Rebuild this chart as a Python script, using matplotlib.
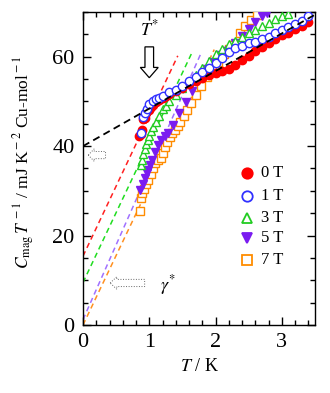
import numpy as np
import matplotlib
matplotlib.use("Agg")
import matplotlib.pyplot as plt
from matplotlib.patches import FancyArrow

plt.rcParams['font.family'] = ['Liberation Serif', 'DejaVu Serif']
plt.rcParams['mathtext.fontset'] = 'stix'

# C_mag/T data (T in K, C/T in mJ K^-2 Cu-mol^-1)
t_0T = [0.85, 0.87, 0.89, 0.91, 0.93, 0.95, 0.98, 1.0, 1.03, 1.06, 1.1, 1.15, 1.2, 1.25, 1.3,
        1.4, 1.5, 1.6, 1.7, 1.8, 1.9, 2.0, 2.1, 2.2, 2.3, 2.4, 2.5, 2.6, 2.7, 2.8, 2.9, 3.0,
        3.1, 3.2, 3.3, 3.4]
c_0T = [42.3, 42.8, 43.5, 46.0, 46.4, 47.5, 48.2, 48.0, 48.8, 49.2, 49.8, 50.3, 50.8, 51.2, 51.6,
        52.4, 53.0, 53.8, 54.5, 55.2, 55.9, 56.3, 56.8, 57.3, 58.2, 59.2, 60.2, 61.2, 62.2, 63.1,
        64.0, 64.8, 65.4, 66.3, 66.8, 67.8]

t_1T = [0.87, 0.9, 0.93, 0.96, 1.0, 1.05, 1.1, 1.15, 1.2, 1.3, 1.4, 1.5, 1.6, 1.7, 1.8, 1.9,
        2.0, 2.1, 2.2, 2.3, 2.4, 2.5, 2.6, 2.7, 2.8, 2.9, 3.0, 3.1, 3.2, 3.3, 3.4]
c_1T = [43.0, 46.5, 47.5, 48.3, 49.5, 50.0, 50.5, 50.8, 51.2, 52.0, 52.6, 53.5, 54.5, 55.5, 56.5, 57.5,
        58.6, 59.8, 61.0, 62.0, 62.5, 63.0, 63.4, 63.9, 64.5, 65.3, 66.0, 66.6, 67.4, 68.0, 69.0]

t_3T = [0.87, 0.89, 0.91, 0.93, 0.95, 0.98, 1.0, 1.03, 1.06, 1.1, 1.15, 1.2, 1.25, 1.3, 1.4,
        1.5, 1.6, 1.7, 1.8, 1.9, 2.0, 2.1, 2.2, 2.3, 2.4, 2.5, 2.6, 2.7, 2.8, 2.9, 3.0, 3.1]
c_3T = [35.8, 37.0, 38.2, 39.3, 40.4, 41.3, 42.2, 43.3, 44.2, 45.5, 46.8, 48.2, 49.0, 50.0, 51.5,
        53.0, 54.5, 56.0, 57.5, 59.0, 60.5, 61.8, 62.8, 63.5, 64.3, 65.3, 66.0, 66.8, 67.5, 68.4, 69.0, 69.6]

t_5T = [0.86, 0.9, 0.93, 0.96, 0.98, 1.01, 1.04, 1.08, 1.13, 1.18, 1.23, 1.28, 1.36, 1.45, 1.55,
        1.65, 1.76, 1.85, 1.95, 2.05, 2.15, 2.2, 2.3, 2.4, 2.5, 2.6, 2.7, 2.77]
c_5T = [30.1, 31.6, 32.8, 33.9, 34.7, 35.8, 37.0, 38.6, 40.3, 41.4, 42.2, 43.0, 44.8, 47.3, 49.8,
        52.3, 55.5, 57.3, 58.9, 60.3, 61.2, 61.6, 63.0, 64.6, 66.2, 67.7, 69.0, 69.8]

t_7T = [0.86, 0.88, 0.89, 0.92, 0.95, 0.98, 1.02, 1.06, 1.09, 1.13, 1.17, 1.2, 1.24, 1.27, 1.31,
        1.35, 1.39, 1.43, 1.46, 1.52, 1.57, 1.63, 1.7, 1.78, 1.87, 1.95, 2.03, 2.12, 2.2, 2.27,
        2.37, 2.45, 2.53, 2.62]
c_7T = [25.5, 28.3, 29.5, 30.5, 31.5, 32.5, 33.8, 35.2, 36.3, 36.9, 37.4, 38.5, 39.8, 41.0, 42.0,
        42.9, 43.7, 44.6, 45.4, 46.8, 48.1, 49.6, 51.4, 53.4, 55.5, 57.2, 58.8, 60.5, 61.8, 62.7,
        65.4, 66.8, 68.2, 69.4]

# linear fits drawn as dashed lines: (intercept, end-point T, end-point C/T)
fit_black = (40.0, 3.5, 69.4)
fit_0T = (15.4, 1.43, 60.2)
fit_3T = (9.5, 1.65, 61.1)
fit_5T = (1.2, 1.79, 61.1)
fit_7T = (0.0, 1.98, 61.6)

fig = plt.figure(figsize=(3.3, 3.93), dpi=100)
ax = fig.add_axes([0.2515, 0.173, 0.703, 0.7965])

for (c0, t1, c1), col in [(fit_0T, '#ff2020'), (fit_3T, '#20dd20'),
                          (fit_5T, '#a070ff'), (fit_7T, '#ff9020')]:
    ax.plot([0, t1], [c0, c1], ls=(0, (3.5, 2.5)), color=col, lw=1.1, zorder=2)

ax.plot(t_7T, c_7T, 's', ms=5.5, mfc='white', mec='#ff8c00', mew=1.0, zorder=3)
ax.plot(t_5T, c_5T, 'v', ms=6, color='#7a1cf0', zorder=3)
ax.plot(t_3T, c_3T, '^', ms=6, mfc='white', mec='#22cc22', mew=1.0, zorder=4)
ax.plot(t_1T, c_1T, 'o', ms=6, mfc='white', mec='#3030ff', mew=1.0, zorder=5)
ax.plot(t_0T, c_0T, 'o', ms=6, color='#ff0000', zorder=4)

c0, t1, c1 = fit_black
ax.plot([0, t1], [c0, c1], ls=(0, (4, 2.5)), color='black', lw=1.3, zorder=6)

# legend drawn as markers + text
leg = [('0T', 'o', '#ff0000', True), ('1T', 'o', '#3030ff', False),
       ('3T', '^', '#22cc22', False), ('5T', 'v', '#7a1cf0', True),
       ('7T', 's', '#ff8c00', False)]
leg_y = [34.0, 28.8, 23.9, 19.4, 14.5]
for (lab, m, col, filled), y in zip(leg, leg_y):
    ax.plot([2.48], [y], m, ms=7.5, mfc=col if filled else 'white', mec=col, mew=1.3,
            clip_on=False, zorder=7)
    ax.text(2.68, y, lab[0] + ' T', fontsize=12, va='center', ha='left')

# T* arrow and label
ax.text(1.0, 66.0, r'$T^{*}$', fontsize=13, ha='center', va='center')
ax.add_patch(FancyArrow(1.0, 62.2, 0, -6.9, width=0.13, head_width=0.27,
                        head_length=2.3, fc='white', ec='black', lw=0.9,
                        length_includes_head=True, zorder=8))

# dotted hollow arrows
ax.add_patch(FancyArrow(0.34, 38.0, -0.26, 0, width=1.6, head_width=2.8,
                        head_length=0.09, fc='white', ec='#666666', lw=0.7, ls=':',
                        length_includes_head=True, zorder=8))
ax.add_patch(FancyArrow(0.93, 9.4, -0.52, 0, width=1.6, head_width=2.8,
                        head_length=0.1, fc='white', ec='#666666', lw=0.7, ls=':',
                        length_includes_head=True, zorder=8))
ax.text(1.28, 9.0, r'$\gamma^{*}$', fontsize=13, ha='center', va='center')

ax.set_xlim(0, 3.5)
ax.set_ylim(0, 70)
ax.set_xticks([0, 1, 2, 3])
ax.set_xticks(np.arange(0, 3.5, 0.2), minor=True)
ax.set_yticks([0, 20, 40, 60])
ax.set_yticks(np.arange(0, 71, 5), minor=True)
ax.tick_params(which='both', direction='in', top=True, right=True, labelsize=16, pad=6)
ax.tick_params(which='major', length=6, width=1)
ax.tick_params(which='minor', length=3.5, width=1)
for s in ax.spines.values():
    s.set_linewidth(1.0)

ax.set_xlabel(r'$T$ / K', fontsize=13, labelpad=4)
ax.set_ylabel(r'$C_{\rm mag}\,T^{\,\rm -1}$ / mJ K$^{\rm -2}$ Cu-mol$^{\rm -1}$',
              fontsize=12.5, labelpad=2)
ax.yaxis.set_label_coords(-0.2, 0.52)

fig.savefig('out.png', dpi=100)
